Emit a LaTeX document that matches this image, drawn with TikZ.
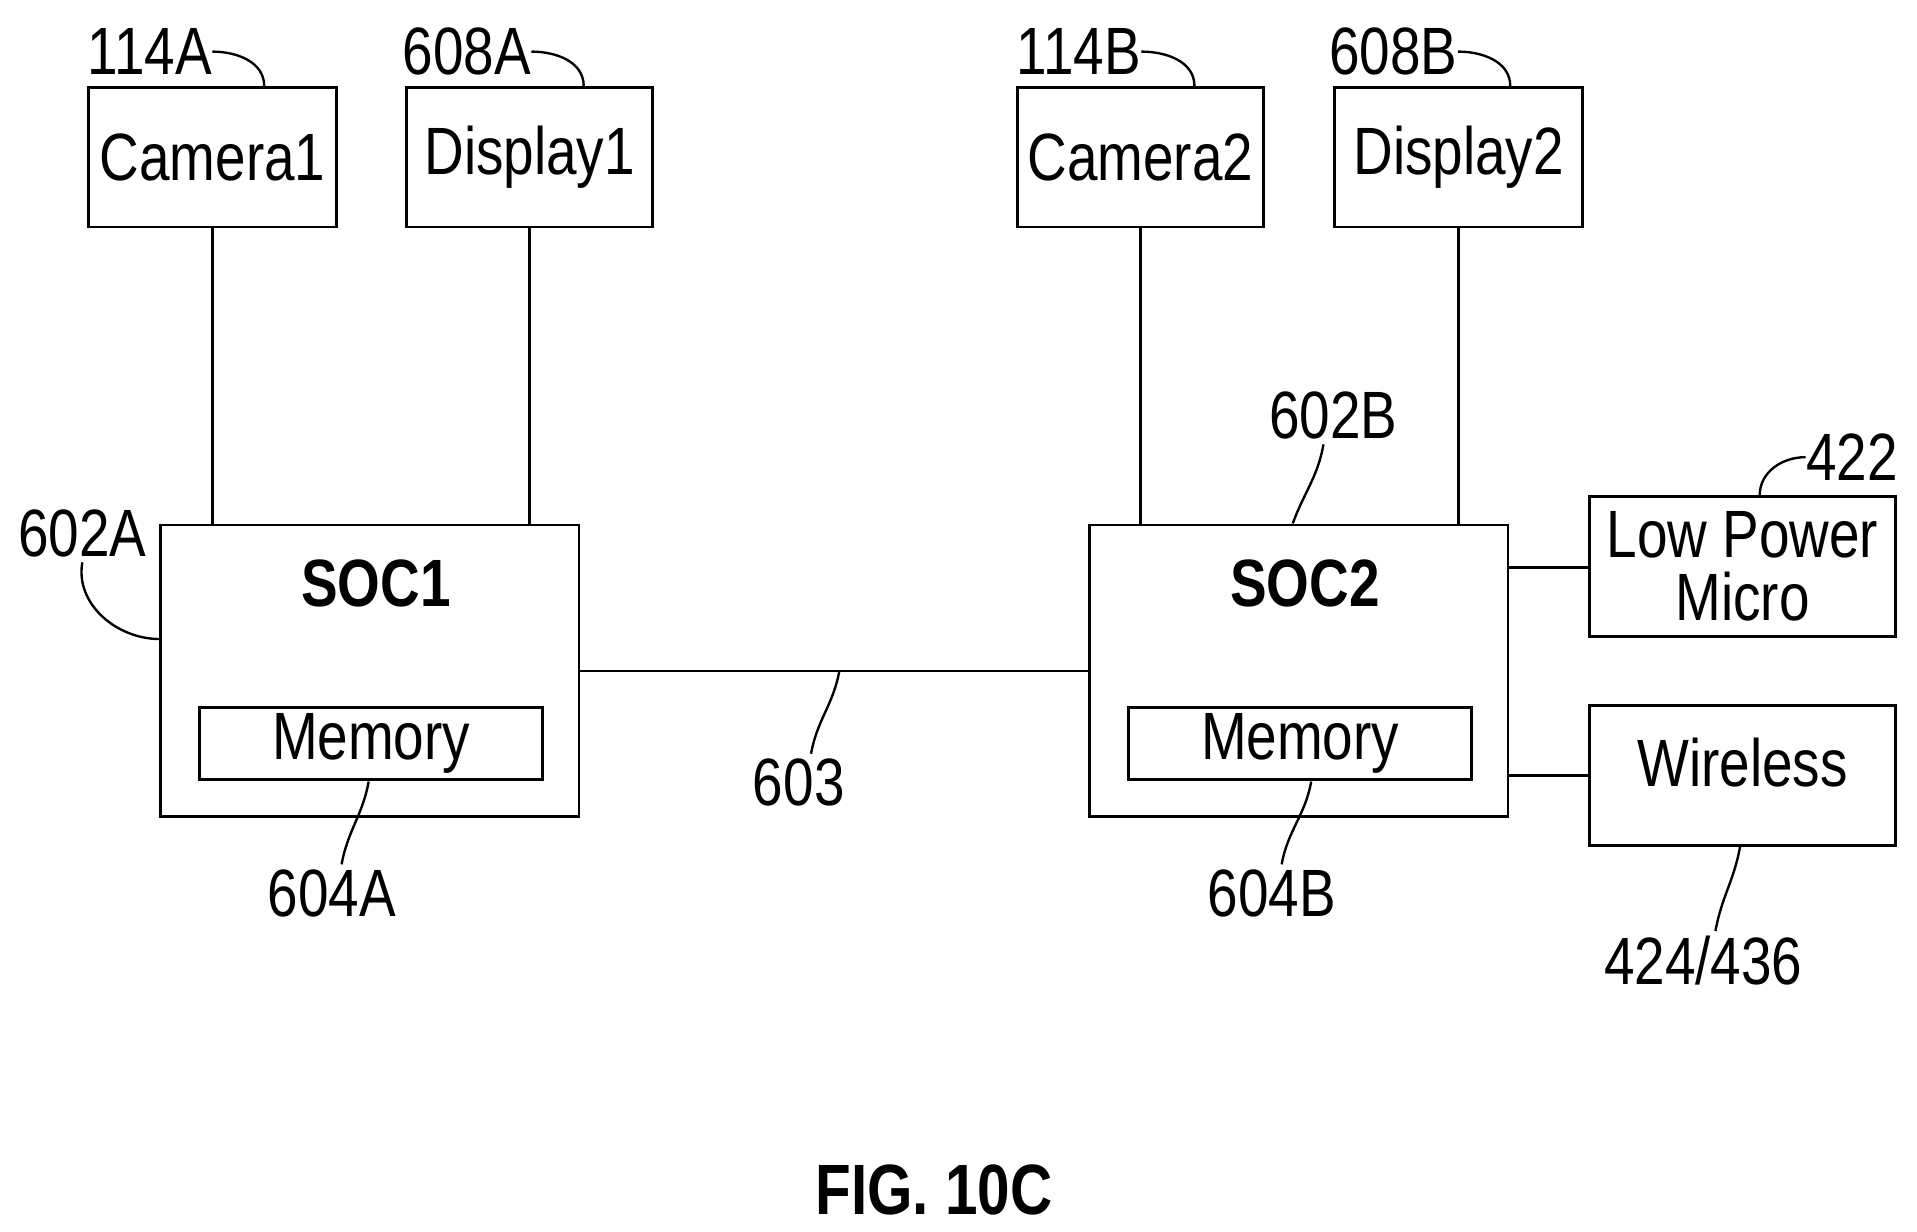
\documentclass[tikz,border=0pt]{standalone}
\usepackage{fontspec}
\setmainfont[FakeStretch=0.82]{Liberation Sans}
\usetikzlibrary{positioning}

\begin{document}
\begin{tikzpicture}[x=0.02cm, y=-0.02cm,
    box/.style ={rectangle, draw=black, line width=1.3pt, inner sep=0pt},
    lbl/.style ={font=\fontsize{31}{33}\selectfont, inner sep=0pt},
    line/.style ={draw, line width=1.3pt},
    lead/.style ={draw, line width=1.1pt}]
    \useasboundingbox (0,0) rectangle (1560,1002);
    % top row
    \node [box, minimum width=4.03cm, minimum height=2.27cm, lbl] (cam1) at (173,128) {Camera1};
    \node [box, minimum width=4.01cm, minimum height=2.27cm, lbl] (disp1) at (431,128) {Display1};
    \node [box, minimum width=4.01cm, minimum height=2.27cm, lbl] (cam2) at (928,128) {Camera2};
    \node [box, minimum width=4.03cm, minimum height=2.27cm, lbl] (disp2) at (1187,128) {\raisebox{6pt}{Display2}};
    % soc row
    \node [box, minimum width=6.81cm, minimum height=4.75cm] (soc1) at (301,546) {};
    \node [box, minimum width=5.59cm, minimum height=1.17cm, lbl] (mem1) at (302,605) {Memory};
    \node [lbl, font=\fontsize{31}{33}\selectfont\bfseries] (soc1t) at (306,475) {SOC1};
    \node [box, minimum width=6.81cm, minimum height=4.75cm] (soc2) at (1057,546) {};
    \node [box, minimum width=5.59cm, minimum height=1.17cm, lbl] (mem2) at (1058,605) {Memory};
    \node [lbl, font=\fontsize{31}{33}\selectfont\bfseries] (soc2t) at (1062,475) {SOC2};
    \node [box, minimum width=4.99cm, minimum height=2.29cm, align=center,
      font=\fontsize{31}{29}\selectfont] (micro) at (1418,461) {Low Power\\Micro};
    \node [box, minimum width=4.99cm, minimum height=2.27cm, lbl] (wifi) at (1418,631) {\raisebox{12pt}{Wireless}};
    % numbers
    \node [lbl] (n114a) at (122,42) {114A};
    \node [lbl] (n608a) at (380,42) {608A};
    \node [lbl] (n114b) at (878,42) {114B};
    \node [lbl] (n608b) at (1134,42) {608B};
    \node [lbl] (n602a) at (67,434) {602A};
    \node [lbl] (n602b) at (1085,338) {602B};
    \node [lbl] (n422) at (1507,372) {422};
    \node [lbl] (n603) at (650,637) {603};
    \node [lbl] (n604a) at (270,727) {604A};
    \node [lbl] (n604b) at (1035,727) {604B};
    \node [lbl] (n424) at (1386,782) {424/436};
    \node [lbl, font=\fontsize{33}{35}\selectfont\bfseries] (fig) at (760,968) {FIG. 10C};
    \coordinate (c603) at (683,546);
    % connecting nodes with paths
    \begin{scope}[every path/.style=line]
      \path (cam1.south) -- (cam1.south |- soc1.north);
      \path (disp1.south) -- (disp1.south |- soc1.north);
      \path (cam2.south) -- (cam2.south |- soc2.north);
      \path (disp2.south) -- (disp2.south |- soc2.north);
      \path (soc1) -- (soc2);
      \path (soc2.east |- 0,462) -- (micro.west |- 0,462);
      \path (soc2.east |- 0,631) -- (wifi.west |- 0,631);
    \end{scope}
    % leaders
    \begin{scope}[every path/.style=lead]
      \path (n114a.east) to[out=0, in=90] (215,70);
      \path (n608a.east) to[out=0, in=90] (475,70);
      \path (n114b.east) to[out=0, in=90] (972,70);
      \path (n608b.east) to[out=0, in=90] (1229,70);
      \path (n602a.south) ++(0,4) to[out=-100, in=180] (soc1.west |- 0,520);
      \path (n602b.south) ++(-8,4) to[out=-100, in=70] (1052,426);
      \path (n422.west) to[out=180, in=90] (1432,403);
      \path (n603.north) ++(10,-4) to[out=80, in=-100] (c603);
      \path (n604a.north) ++(8,-4) to[out=80, in=-100] (300,636);
      \path (n604b.north) ++(8,-4) to[out=80, in=-100] (1067,636);
      \path (n424.north) ++(10,-4) to[out=80, in=-100] (1416,689);
    \end{scope}
\end{tikzpicture}
\end{document}
